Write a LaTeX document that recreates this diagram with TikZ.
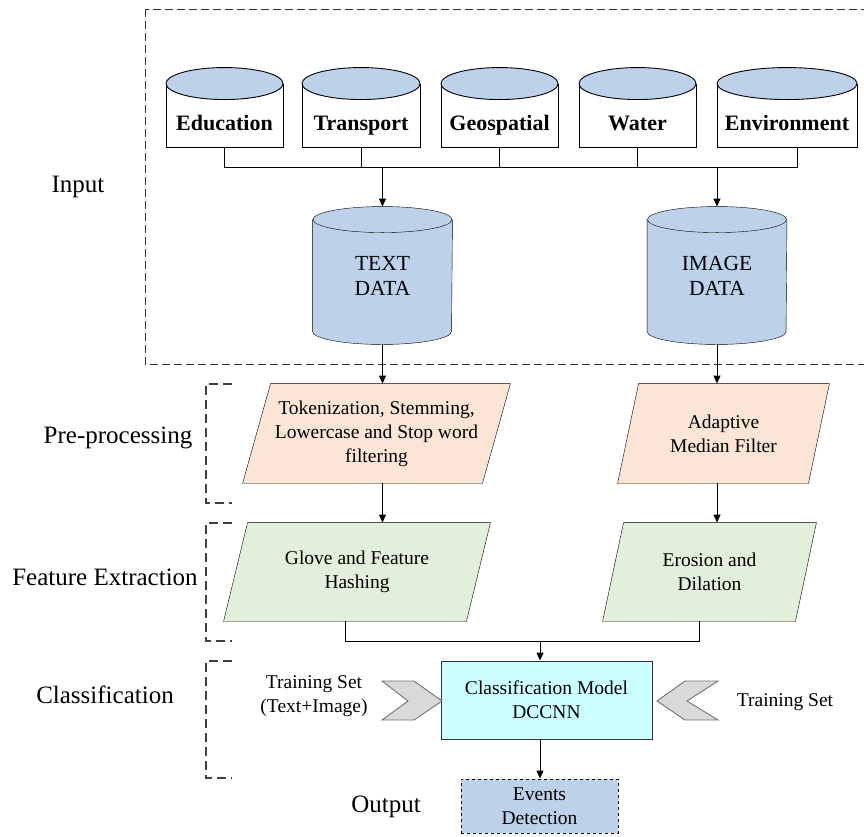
\documentclass[tikz,border=0pt]{standalone}
\usepackage{fontspec}
\setmainfont{Liberation Serif}
\usetikzlibrary{arrows.meta,backgrounds}

\definecolor{dbblue}{HTML}{BDD1EA}
\definecolor{prepeach}{HTML}{FBE5D6}
\definecolor{featgreen}{HTML}{E2EFDA}
\definecolor{modelcyan}{HTML}{CCFFFF}
\definecolor{chevgray}{HTML}{D9D9D9}

\tikzset{
  every node/.style={font=\fontsize{19.5}{24}\selectfont, align=center},
  lbl/.style={font=\fontsize{25}{30}\selectfont},
  src/.style={draw, fill=white, minimum height=63pt, inner sep=0pt,
    font=\fontsize{22}{26}\selectfont\bfseries, text height=29pt, text depth=0pt},
  db/.style={minimum width=139pt, minimum height=111pt, inner sep=0pt,
    font=\fontsize{21.5}{25}\selectfont},
  para/.style={minimum height=99pt, inner sep=0pt},
  arr/.style={-{Triangle[length=8pt,width=7pt]}},
  bracket/.style={dash pattern=on 9pt off 5pt, line width=1.2pt, black!75},
}

\begin{document}
\begin{tikzpicture}[x=1pt,y=-1pt,line width=0.9pt]
  \useasboundingbox (0,0) rectangle (864,836);

  % input area
  \draw[dash pattern=on 8pt off 4pt, line width=0.8pt, black!80] (145,9) rectangle (872,364);

  \node[src, minimum width=117pt] (edu) at (224.5,115.5) {Education};
  \node[src, minimum width=118pt] (tra) at (361,115.5) {Transport};
  \node[src, minimum width=117pt] (geo) at (499.5,115.5) {Geospatial};
  \node[src, minimum width=117pt] (wat) at (637.5,115.5) {Water};
  \node[src, minimum width=140pt] (env) at (787,115.5) {Environment};
  \foreach \n/\r in {edu/58.5pt,tra/59pt,geo/58.5pt,wat/58.5pt,env/70pt}
    \draw[fill=dbblue] (\n.north) ellipse [x radius=\r, y radius=16pt];

  \node[db] (txt) at (382.5,275.5) {TEXT\\DATA};
  \node[db] (img) at (717,275.5) {IMAGE\\DATA};

  \coordinate (bus1) at (0,167);
  \draw (edu.south) -- (edu.south |- bus1) -- ([xshift=10pt]env.south |- bus1)
    -- ([xshift=10pt]env.south);
  \foreach \n in {tra,geo,wat}
    \draw (\n.south) -- (\n.south |- bus1);
  \draw[arr] (txt.north |- bus1) -- ([yshift=13pt]txt.north);
  \draw[arr] (img.north |- bus1) -- ([yshift=13pt]img.north);

  % pre-processing and features
  \node[para, minimum width=239pt] (tok) at (376.5,433.5)
    {Tokenization, Stemming,\\Lowercase and Stop word\\filtering};
  \node[para, minimum width=190pt] (ada) at (723.5,433.5) {Adaptive\\Median Filter};
  \node[para, minimum width=242pt, minimum height=98pt] (glv) at (357,572)
    {Glove and Feature\\Hashing};
  \node[para, minimum width=192pt, minimum height=98pt] (ero) at (709.5,572)
    {Erosion and\\Dilation};

  \begin{scope}[on background layer]
    \foreach \n in {txt,img} {
      \draw[fill=dbblue] (\n.north west) -- (\n.south west)
        arc[start angle=180, end angle=360, x radius=69.5pt, y radius=13pt]
        -- (\n.north east) -- cycle;
      \draw[fill=dbblue] (\n.north) ellipse [x radius=69.5pt, y radius=13pt];
    }
    \foreach \n/\s/\c in {tok/14pt/prepeach,ada/10.5pt/prepeach,glv/12pt/featgreen,ero/10.5pt/featgreen}
      \draw[fill=\c] ([xshift=\s]\n.north west) -- ([xshift=\s]\n.north east)
        -- ([xshift=-\s]\n.south east) -- ([xshift=-\s]\n.south west) -- cycle;
  \end{scope}

  \draw[arr] ([yshift=-13pt]txt.south) -- (txt.south |- tok.north);
  \draw[arr] ([yshift=-13pt]img.south) -- (img.south |- ada.north);
  \draw[arr] (txt.south |- tok.south) -- (txt.south |- glv.north);
  \draw[arr] (img.south |- ada.south) -- (img.south |- ero.north);

  % classification
  \node[draw, black!80, text=black, fill=modelcyan, minimum width=211pt, minimum height=78pt]
    (cls) at (546.5,700) {Classification Model\\DCCNN};
  \node[draw, dashed, fill=dbblue, minimum width=157pt, minimum height=54pt]
    (evt) at (539.5,806) {Events\\Detection};

  \coordinate (bus2) at (0,641);
  \coordinate (join) at (540,641);
  \draw ([xshift=-12pt]glv.south) -- ([xshift=-12pt]glv.south |- bus2)
    -- ([xshift=-10.5pt]ero.south |- bus2) -- ([xshift=-10.5pt]ero.south);
  \draw[arr] (join) -- (join |- cls.north);
  \draw[arr] (join |- cls.south) -- (join |- evt.north);

  \draw[fill=chevgray, draw=black!55] (382,681) -- (414,681) -- (442,701) -- (414,720)
    -- (382,720) -- (408,701) -- cycle;
  \draw[fill=chevgray, draw=black!55] (718,681) -- (685,681) -- (657,701) -- (685,720)
    -- (718,720) -- (687,701) -- cycle;
  \node (trl) at (314,696) {Training Set\\(Text+Image)};
  \node (trr) at (785,702) {Training Set};

  % stage labels
  \node[lbl] (inp) at (78,187) {Input};
  \node[lbl] (pre) at (118,438) {Pre-processing};
  \node[lbl] (fea) at (105,577) {Feature Extraction};
  \node[lbl] (cla) at (105,695) {Classification};
  \node[lbl] (out) at (386,807) {Output};

  \draw[bracket] (232,384) -- (206,384) -- (206,503) -- (232,503);
  \draw[bracket] (232,523) -- (206,523) -- (206,641) -- (232,641);
  \draw[bracket] (232,661) -- (206,661) -- (206,778) -- (232,778);
\end{tikzpicture}
\end{document}
